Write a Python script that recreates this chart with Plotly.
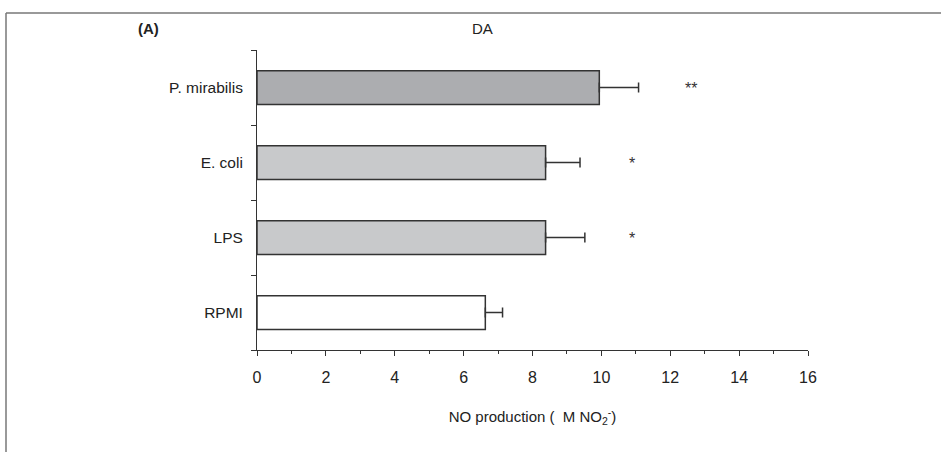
import plotly.graph_objects as go

categories = ["RPMI", "LPS", "E. coli", "P. mirabilis"]
values = [6.63, 8.38, 8.38, 9.94]
errors = [0.50, 1.14, 1.00, 1.14]
bar_colors = ["#ffffff", "#c8c9cb", "#c8c9cb", "#acadb0"]
signif = ["", "*", "*", "**"]
signif_x = [0, 10.9, 10.9, 12.6]
x_ticks = [0, 2, 4, 6, 8, 10, 12, 14, 16]

W, H = 941, 452
L, R, T, B = 257, 133, 50, 102
pw, ph = W - L - R, H - T - B

def px(x):
    return (x - L) / pw

def py(y):
    return (H - B - y) / ph

FONT = "Liberation Sans, Arial, sans-serif"

fig = go.Figure()
fig.add_trace(go.Bar(
    x=values, y=categories, orientation="h",
    marker=dict(color=bar_colors, line=dict(color="#333333", width=1.5)),
    width=0.45,
    error_x=dict(type="data", array=errors, arrayminus=[0]*len(errors), symmetric=False,
                 color="#333333", thickness=1.5, width=5),
    showlegend=False,
))

for c, s, sx in zip(categories, signif, signif_x):
    if s:
        fig.add_annotation(x=sx, y=c, text=s, showarrow=False,
                           font=dict(family=FONT, size=16, color="#333333"), yshift=-1)

fig.add_annotation(xref="paper", yref="paper", x=px(136), y=py(29), text="<b>(A)</b>",
                   showarrow=False, xanchor="left", yanchor="middle",
                   font=dict(family=FONT, size=15, color="#222222"))
fig.add_annotation(xref="paper", yref="paper", x=px(482), y=py(29), text="DA",
                   showarrow=False, xanchor="center", yanchor="middle",
                   font=dict(family=FONT, size=15, color="#222222"))

# figure frame (top and left edges)
fig.add_shape(type="line", xref="paper", yref="paper", x0=px(6), x1=px(941), y0=py(13), y1=py(13),
              line=dict(color="#777777", width=1.5))
fig.add_shape(type="line", xref="paper", yref="paper", x0=px(6), x1=px(6), y0=py(13), y1=py(452),
              line=dict(color="#777777", width=1.5))

fig.update_layout(
    width=W, height=H,
    margin=dict(l=L, r=R, t=T, b=B, pad=0),
    plot_bgcolor="white", paper_bgcolor="white",
    font=dict(family=FONT, size=15, color="#222222"),
    xaxis=dict(range=[0, 16], tickvals=x_ticks, ticks="outside", ticklen=5, tickcolor="#333333",
               minor=dict(dtick=1, tick0=0, ticks="outside", ticklen=3, tickcolor="#333333"),
               showline=True, linecolor="#333333", linewidth=1, showgrid=False, zeroline=False,
               tickfont=dict(size=16), ticklabelstandoff=8,
               title=dict(text="NO production (  M NO<sub>2</sub><sup>-</sup>)", standoff=26,
                          font=dict(size=15))),
    yaxis=dict(type="category", categoryorder="array", categoryarray=categories,
               range=[-0.5, 3.5], ticks="outside", tickson="boundaries", ticklen=5,
               tickcolor="#333333", showline=True, linecolor="#333333", linewidth=1,
               showgrid=False, zeroline=False, ticklabelstandoff=10, tickfont=dict(size=15.5)),
)

fig.write_html("out.html")
